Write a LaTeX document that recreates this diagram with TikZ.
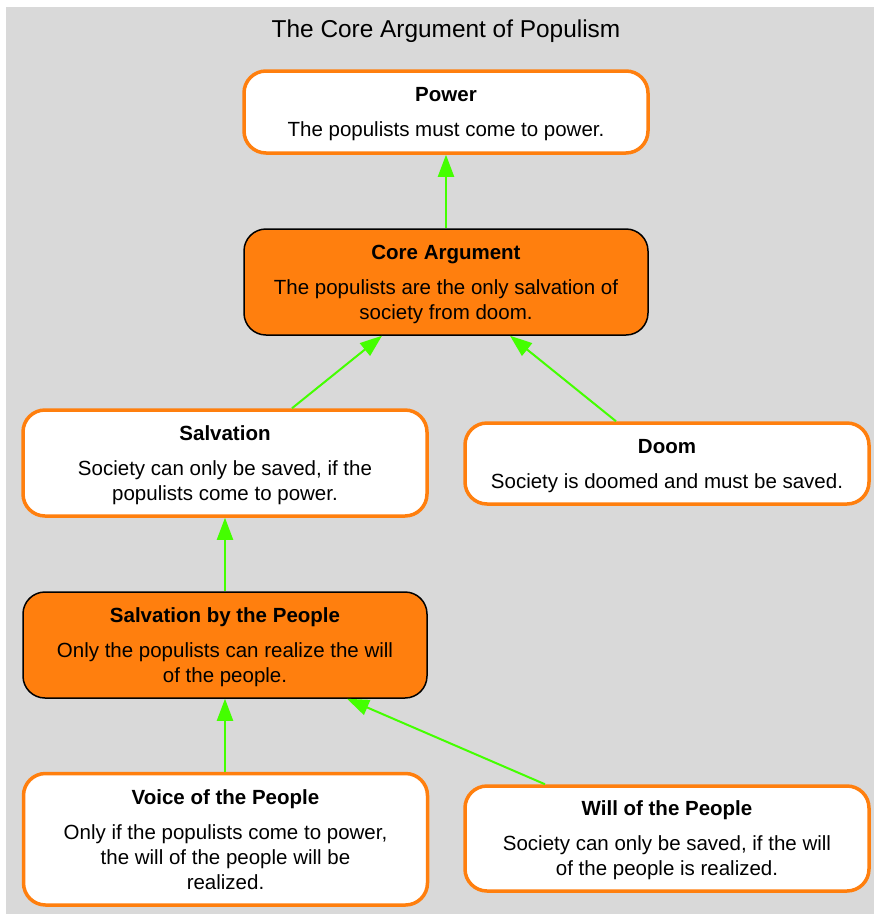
\documentclass[tikz,border=0pt]{standalone}
\usepackage{fontspec}
\setmainfont{Liberation Sans}
\usetikzlibrary{arrows.meta}
\usetikzlibrary{positioning}
\definecolor{bggray}{RGB}{217, 217, 217}
\definecolor{morange}{RGB}{255, 127, 14}
\definecolor{mgreen}{RGB}{68, 255, 0}
\tikzset{claim/.style = {draw=morange, line width=3.5pt, fill=white,
                         rounded corners=22pt, minimum width=404pt,
                         inner sep=0pt, align=center, text depth=0pt,
                         font=\fontsize{20.5}{25}\selectfont},
         keyclaim/.style = {claim, draw=black, line width=1.5pt, fill=morange},
         support/.style = {mgreen, line width=2pt,
                           -{Triangle[length=22pt, width=16pt]}}}

\begin{document}
\begin{tikzpicture}[x=1pt, y=-1pt]
    \useasboundingbox (0, 0) rectangle (874, 914);
    \fill [bggray] (6, 7) rectangle (874, 914);

    \node [font=\fontsize{24.4}{29}\selectfont] (title) at (446, 31) {The Core Argument of Populism};

    \node [claim, minimum height=82pt] (power) at (446, 112)
        {\textbf{Power}\\[10pt]The populists must come to power.};
    \node [keyclaim, minimum height=106pt] (core) at (446, 282)
        {\textbf{Core Argument}\\[10pt]The populists are the only salvation of\\society from doom.};
    \node [claim, minimum height=106pt] (salvation) at (225, 463)
        {\textbf{Salvation}\\[10pt]Society can only be saved, if the\\populists come to power.};
    \node [claim, minimum height=81pt] (doom) at (667, 463.5)
        {\textbf{Doom}\\[10pt]Society is doomed and must be saved.};
    \node [keyclaim, minimum height=106pt] (bypeople) at (225, 645)
        {\textbf{Salvation by the People}\\[10pt]Only the populists can realize the will\\of the people.};
    \node [claim, minimum height=131.5pt] (voice) at (225.5, 839.25)
        {\textbf{Voice of the People}\\[10pt]Only if the populists come to power,\\the will of the people will be\\realized.};
    \node [claim, minimum height=105pt] (will) at (667, 838.5)
        {\textbf{Will of the People}\\[10pt]Society can only be saved, if the will\\of the people is realized.};

    \draw [support] (core) -- (power);
    \draw [support] ([xshift=67pt]salvation.north) -- ([xshift=-64pt]core.south);
    \draw [support] ([xshift=-51pt]doom.north) -- ([xshift=64pt]core.south);
    \draw [support] (bypeople) -- (salvation);
    \draw [support] ([xshift=-0.5pt]voice.north) -- (bypeople.south);
    \draw [support] ([xshift=-122pt]will.north) -- ([xshift=122pt]bypeople.south);
\end{tikzpicture}
\end{document}
